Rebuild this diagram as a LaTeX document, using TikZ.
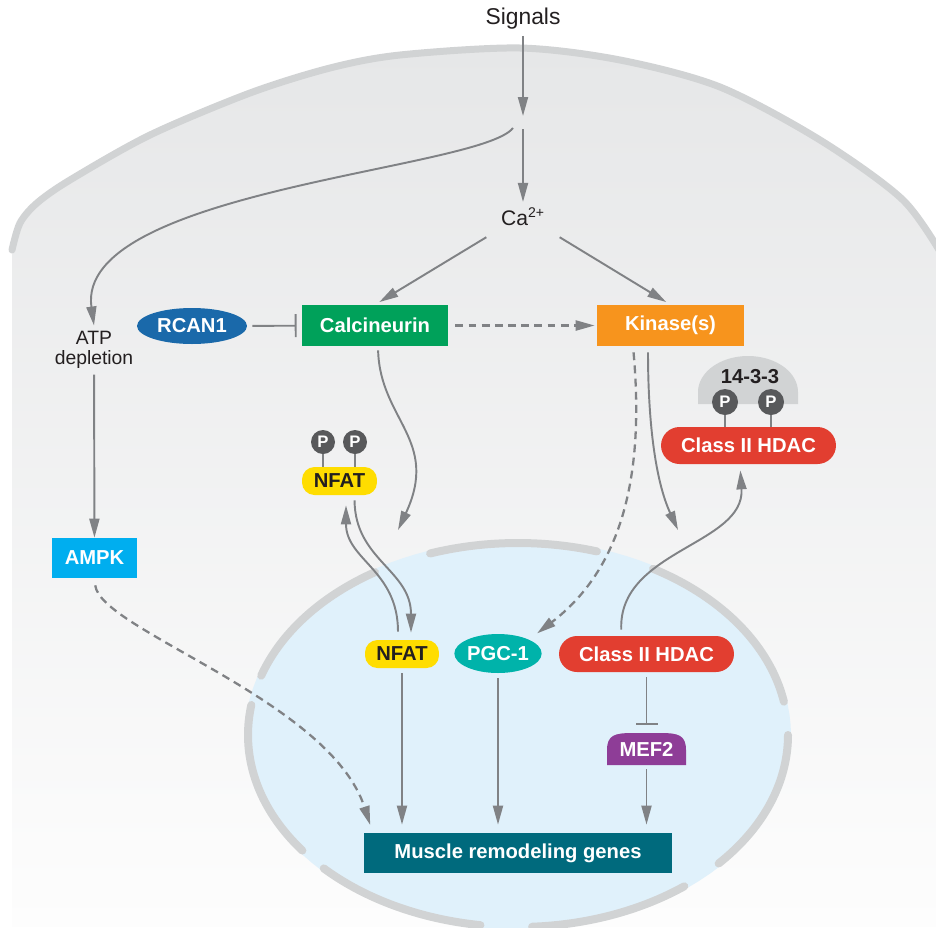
\documentclass[tikz,border=0pt]{standalone}
\usepackage{fontspec}
\setmainfont{Liberation Sans}
\usetikzlibrary{arrows.meta,shapes.geometric}
\definecolor{MRArrow}{HTML}{808285}
\definecolor{MRLine}{HTML}{D1D3D4}
\definecolor{MRCellTop}{HTML}{E6E7E8}
\definecolor{MRCellBot}{HTML}{FDFDFD}
\definecolor{MRNucleus}{HTML}{E0F1FB}
\definecolor{MRText}{HTML}{231F20}
\definecolor{MRGreen}{HTML}{00A15A}
\definecolor{MROrange}{HTML}{F7941D}
\definecolor{MRBlue}{HTML}{1A69AA}
\definecolor{MRCyan}{HTML}{00AEEF}
\definecolor{MRRed}{HTML}{E23E30}
\definecolor{MRYellow}{HTML}{FFDD00}
\definecolor{MRTeal}{HTML}{00B3AA}
\definecolor{MRPurple}{HTML}{8E3D97}
\definecolor{MRDeep}{HTML}{006A7D}
\definecolor{MRPhos}{HTML}{58595B}
\tikzset{
  arr/.style={draw=MRArrow,line width=1.1pt,-{Triangle[length=0.38cm,width=0.2cm]}},
  inh/.style={draw=MRArrow,line width=1.1pt,-{Bar[width=0.46cm]}},
  dsh/.style={line width=1.3pt,dash pattern=on 4.5pt off 3pt},
  lbl/.style={text=MRText,font=\fontsize{11}{11}\selectfont,align=center},
  box/.style={text=white,font=\bfseries\fontsize{11.5}{13}\selectfont,inner sep=0pt},
  phos/.style={circle,fill=MRPhos,text=white,font=\bfseries\fontsize{9.5}{10}\selectfont,inner sep=0pt},
  stem/.style={draw=MRArrow,line width=1.3pt},
  envelope/.style={draw=MRLine,line width=0.16cm,line cap=round}
}

\begin{document}
\begin{tikzpicture}[x=0.02cm,y=-0.02cm]
\path[use as bounding box] (0,0) rectangle (936,927);
\clip (0,0) rectangle (936,927);
\shade[top color=MRCellTop,bottom color=MRCellBot] plot[smooth] coordinates {(12,250) (20,223) (37,203) (70,180) (150,135) (250,93) (330,68) (400,55) (520,48) (620,60) (720,87) (820,140) (903,200) (945,260)} -- (945,927) -- (12,927) -- cycle;
\draw[MRLine,line width=0.14cm,line cap=round] plot[smooth] coordinates {(12,250) (20,223) (37,203) (70,180) (150,135) (250,93) (330,68) (400,55) (520,48) (620,60) (720,87) (820,140) (903,200) (945,260)};
\fill[MRNucleus] plot[domain=0:360,samples=120,variable=\t] ({518+273*cos(\t)},{735+195*sin(\t)}) -- cycle;
\foreach \a/\b in {-109/-73,-162/-122,143/189,98/136,52/87,0/42,-60/-10}
  \draw[envelope] plot[domain=\a:\b,samples=40,variable=\t] ({518+270*cos(\t)},{735+192*sin(\t)});

\fill[MRLine] (698,404) -- (698,392) -- plot[domain=180:360,samples=40,variable=\t] ({748+50*cos(\t)},{392+36*sin(\t)}) -- (798,404) -- cycle;
\fill[MRPurple] (607,765) -- (607,750) .. controls (607,735) and (615,733) .. (632,733) -- (661,733) .. controls (678,733) and (686,735) .. (686,750) -- (686,765) -- cycle;

\node[lbl,font=\fontsize{13}{13}\selectfont] (signals) at (523,19) {Signals};
\node[lbl,font=\fontsize{12}{12}\selectfont] (ca) at (523,217) {Ca\textsuperscript{2+}};
\node[lbl] (atp) at (94,350) {ATP\\depletion};
\node[box,ellipse,fill=MRBlue,minimum width=2.2cm,minimum height=0.72cm] (rcan) at (192,326) {RCAN1};
\node[box,fill=MRGreen,minimum width=2.92cm,minimum height=0.82cm] (calc) at (375,325.5) {Calcineurin};
\node[box,fill=MROrange,minimum width=2.94cm,minimum height=0.82cm] (kin) at (670.5,325.5) {Kinase(s)};
\node[box,fill=MRCyan,minimum width=1.7cm,minimum height=0.8cm] (ampk) at (94.5,558) {AMPK};
\node[text=MRText,font=\bfseries\fontsize{11.5}{13}\selectfont] (dimer) at (750,377) {14-3-3};
\node[phos,minimum size=0.52cm] (pa) at (725,402) {P};
\node[phos,minimum size=0.52cm] (pb) at (771,402) {P};
\node[box,fill=MRRed,rounded corners=0.37cm,minimum width=3.5cm,minimum height=0.74cm] (hdacc) at (748.5,445.5) {Class II HDAC};
\node[phos,minimum size=0.48cm] (pc) at (323,442) {P};
\node[phos,minimum size=0.48cm] (pd) at (355,442) {P};
\node[box,text=MRText,fill=MRYellow,rounded corners=0.25cm,minimum width=1.5cm,minimum height=0.56cm] (nfatc) at (339.5,481) {NFAT};
\node[box,text=MRText,fill=MRYellow,rounded corners=0.25cm,minimum width=1.48cm,minimum height=0.56cm] (nfatn) at (402,654) {NFAT};
\node[box,ellipse,fill=MRTeal,minimum width=1.64cm,minimum height=0.78cm] (pgc) at (498,653.5) {PGC-1};
\node[box,fill=MRRed,rounded corners=0.36cm,minimum width=3.5cm,minimum height=0.72cm] (hdacn) at (646.5,654) {Class II HDAC};
\node[box,minimum width=1.58cm,minimum height=0.64cm] (mef) at (646.5,749) {MEF2};
\node[box,fill=MRDeep,minimum width=6.16cm,minimum height=0.8cm] (genes) at (518,853) {Muscle remodeling genes};

\draw[stem] (pa.south) -- (pa.south |- hdacc.north);
\draw[stem] (pb.south) -- (pb.south |- hdacc.north);
\draw[stem] (pc.south) -- (pc.south |- nfatc.north);
\draw[stem] (pd.south) -- (pd.south |- nfatc.north);

\coordinate (sigend) at (523,116);
\coordinate (forkc) at (523,129);
\coordinate (forkl) at (513,128);
\coordinate (nfatin) at (398,530);
\coordinate (hdacin) at (678,530);

\draw[arr] (signals) -- (sigend);
\draw[arr] (forkc) -- (ca);
\draw[arr] (forkl) .. controls (480,170) and (75,190) .. (atp.north);
\draw[arr] (atp) -- (ampk);
\draw[inh,shorten <=0.1cm,shorten >=0.1cm] (rcan) -- (calc);
\draw[arr,shorten <=0.2cm,shorten >=0.1cm] (ca.south west) -- (calc.north);
\draw[arr,shorten <=0.2cm,shorten >=0.1cm] (ca.south east) -- (kin.north);
\draw[arr,dsh,shorten <=0.14cm,shorten >=0.04cm] (calc) -- (kin);
\draw[arr,shorten <=0.08cm] ([xshift=0.06cm]calc.south) .. controls (380,420) and (440,440) .. (nfatin);
\draw[arr,shorten <=0.1cm,shorten >=0.14cm] ([xshift=0.3cm]nfatc.south) .. controls (355,560) and (411,570) .. ([xshift=0.18cm]nfatn.north);
\draw[arr,shorten <=0.16cm,shorten >=0.2cm] ([xshift=-0.08cm]nfatn.north) .. controls (398,570) and (346,560) .. ([xshift=0.13cm]nfatc.south);
\draw[arr,shorten <=0.12cm] ([xshift=-0.45cm]kin.south) .. controls (648,420) and (655,480) .. (hdacin);
\draw[arr,dsh,shorten <=0.12cm,shorten >=0.2cm] ([xshift=-0.75cm]kin.south) .. controls (645,480) and (620,570) .. (pgc.north east);
\draw[arr,shorten <=0.12cm,shorten >=0.12cm] ([xshift=-0.5cm]hdacn.north) .. controls (618,550) and (745,545) .. ([xshift=-0.17cm]hdacc.south);
\draw[inh,shorten <=0.1cm,shorten >=0.16cm,-{Bar[width=0.44cm]}] (hdacn.south) -- (mef.north);
\draw[arr,shorten <=0.08cm,shorten >=0.16cm] (mef.south) -- (mef.south |- genes.north);
\draw[arr,shorten <=0.1cm,shorten >=0.16cm] (pgc.south) -- (pgc.south |- genes.north);
\draw[arr,shorten <=0.1cm,shorten >=0.16cm] (nfatn.south) -- (nfatn.south |- genes.north);
\draw[arr,dsh,shorten <=0.14cm,shorten >=0.16cm] (ampk.south) .. controls (100,630) and (330,700) .. ([xshift=0.18cm]genes.north west);
\end{tikzpicture}
\end{document}
